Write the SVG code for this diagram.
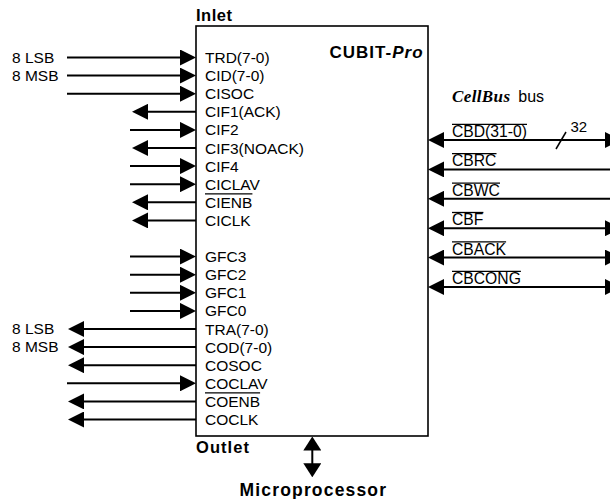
<svg xmlns="http://www.w3.org/2000/svg" width="610" height="499" viewBox="0 0 610 499">
<style>
.lbl{font-family:"Liberation Sans",Arial,sans-serif;font-size:15.5px;fill:#000}
.rl{font-family:"Liberation Sans",Arial,sans-serif;font-size:15.7px;fill:#000}
.bold{font-family:"Liberation Sans",Arial,sans-serif;font-weight:bold;fill:#000}
.wire{stroke:#000;stroke-width:2;fill:none}
.in{marker-end:url(#ah)}
.out{marker-end:url(#ah)}
.bi{marker-start:url(#ah);marker-end:url(#ah)}
.ov{stroke:#000;stroke-width:1.3}
</style>
<defs>
<marker id="ah" markerUnits="userSpaceOnUse" markerWidth="16" markerHeight="16" viewBox="0 0 16 16" refX="8" refY="8" orient="auto-start-reverse"><path d="M0,0 L16,8 L0,16 z" fill="#000"/></marker>
<marker id="ahv" markerUnits="userSpaceOnUse" markerWidth="14" markerHeight="18" viewBox="0 0 14 18" refX="7" refY="9" orient="auto-start-reverse"><path d="M0,0 L14,9 L0,18 z" fill="#000"/></marker>
</defs>
<rect width="610" height="499" fill="#fff"/>

<g id="connectors">
<line class="wire in" x1="67" y1="57.5" x2="188" y2="57.5"/>
<line class="wire in" x1="67" y1="75.6" x2="188" y2="75.6"/>
<line class="wire in" x1="67" y1="93.7" x2="188" y2="93.7"/>
<line class="wire out" x1="196" y1="111.8" x2="140" y2="111.8"/>
<line class="wire in" x1="130" y1="129.9" x2="188" y2="129.9"/>
<line class="wire out" x1="196" y1="148" x2="140" y2="148"/>
<line class="wire in" x1="130" y1="166.1" x2="188" y2="166.1"/>
<line class="wire in" x1="130" y1="184.2" x2="188" y2="184.2"/>
<line class="wire out" x1="196" y1="202.3" x2="140" y2="202.3"/>
<line class="wire out" x1="196" y1="220.4" x2="140" y2="220.4"/>
<line class="wire in" x1="130" y1="256.6" x2="188" y2="256.6"/>
<line class="wire in" x1="130" y1="274.7" x2="188" y2="274.7"/>
<line class="wire in" x1="130" y1="292.8" x2="188" y2="292.8"/>
<line class="wire in" x1="130" y1="310.9" x2="188" y2="310.9"/>
<line class="wire out" x1="196" y1="329" x2="76" y2="329"/>
<line class="wire out" x1="196" y1="347.1" x2="76" y2="347.1"/>
<line class="wire out" x1="196" y1="365.2" x2="76" y2="365.2"/>
<line class="wire in" x1="67" y1="383.3" x2="188" y2="383.3"/>
<line class="wire out" x1="196" y1="401.4" x2="76" y2="401.4"/>
<line class="wire out" x1="196" y1="419.5" x2="76" y2="419.5"/>

<line class="wire bi" x1="436" y1="140" x2="613" y2="140"/>
<line class="wire" x1="436" y1="169.4" x2="610" y2="169.4" marker-start="url(#ah)"/>
<line class="wire" x1="436" y1="198.8" x2="610" y2="198.8" marker-start="url(#ah)"/>
<line class="wire bi" x1="436" y1="228.2" x2="613" y2="228.2"/>
<line class="wire bi" x1="436" y1="257.6" x2="613" y2="257.6"/>
<line class="wire bi" x1="436" y1="287" x2="613" y2="287"/>
<line x1="556" y1="149" x2="566" y2="132" stroke="#000" stroke-width="1.5"/>

<line x1="312.3" y1="443.5" x2="312.3" y2="470.3" stroke="#000" stroke-width="2" marker-start="url(#ahv)" marker-end="url(#ahv)"/>
</g>

<g id="cubit">
<rect x="196" y="26" width="232" height="410" fill="none" stroke="#000" stroke-width="1.6"/>
<text class="bold" x="196" y="21" font-size="16.5" textLength="36" lengthAdjust="spacing">Inlet</text>
<text class="bold" x="196" y="452.5" font-size="16.5" textLength="53" lengthAdjust="spacing">Outlet</text>
<text class="bold" x="329.5" y="58.3" font-size="17" letter-spacing="1">CUBIT-<tspan font-style="italic">Pro</tspan></text>
<g class="lbl">
<text x="205" y="63">TRD(7-0)</text>
<text x="205" y="81.1">CID(7-0)</text>
<text x="205" y="99.2">CISOC</text>
<text x="205" y="117.3">CIF1(ACK)</text>
<text x="205" y="135.4">CIF2</text>
<text x="205" y="153.5">CIF3(NOACK)</text>
<text x="205" y="171.6">CIF4</text>
<text x="205" y="189.7">CICLAV</text>
<text x="205" y="207.8">CIENB</text>
<text x="205" y="225.9">CICLK</text>
<text x="205" y="262.1">GFC3</text>
<text x="205" y="280.2">GFC2</text>
<text x="205" y="298.3">GFC1</text>
<text x="205" y="316.4">GFC0</text>
<text x="205" y="334.5">TRA(7-0)</text>
<text x="205" y="352.6">COD(7-0)</text>
<text x="205" y="370.7">COSOC</text>
<text x="205" y="388.8">COCLAV</text>
<text x="205" y="406.9">COENB</text>
<text x="205" y="425">COCLK</text>
</g>
<line class="ov" x1="205" y1="193.8" x2="252.4" y2="193.8"/>
<line class="ov" x1="205" y1="392.9" x2="260.1" y2="392.9"/>
</g>

<g id="inlet-ext" class="lbl">
<text x="12" y="62.5">8 LSB</text>
<text x="12" y="80.6">8 MSB</text>
</g>
<g id="outlet-ext" class="lbl">
<text x="12" y="334">8 LSB</text>
<text x="12" y="352.1">8 MSB</text>
</g>

<g id="cellbus">
<text x="452" y="102" font-family="'Liberation Serif','Times New Roman',serif" font-weight="bold" font-style="italic" font-size="17" textLength="58" lengthAdjust="spacing">CellBus</text>
<text x="518.3" y="102" font-family="'Liberation Sans',Arial,sans-serif" font-size="16">bus</text>
<g class="rl">
<text x="452" y="137">CBD(31-0)</text>
<text x="452" y="166.4">CBRC</text>
<text x="452" y="195.8">CBWC</text>
<text x="452" y="225.2">CBF</text>
<text x="452" y="254.6">CBACK</text>
<text x="452" y="284">CBCONG</text>
</g>
<line class="ov" x1="452" y1="124.3" x2="527" y2="124.3"/>
<line class="ov" x1="452" y1="153.7" x2="496.5" y2="153.7"/>
<line class="ov" x1="452" y1="183.1" x2="500" y2="183.1"/>
<line class="ov" x1="452" y1="212.5" x2="483.4" y2="212.5"/>
<line class="ov" x1="452" y1="241.9" x2="506.1" y2="241.9"/>
<line class="ov" x1="452" y1="271.3" x2="520.9" y2="271.3"/>
<text x="570.5" y="132" font-family="'Liberation Sans',Arial,sans-serif" font-size="15">32</text>
</g>

<g id="microprocessor">
<text class="bold" x="239.5" y="495.5" font-size="17.5" textLength="146.5" lengthAdjust="spacing">Microprocessor</text>
</g>
</svg>
